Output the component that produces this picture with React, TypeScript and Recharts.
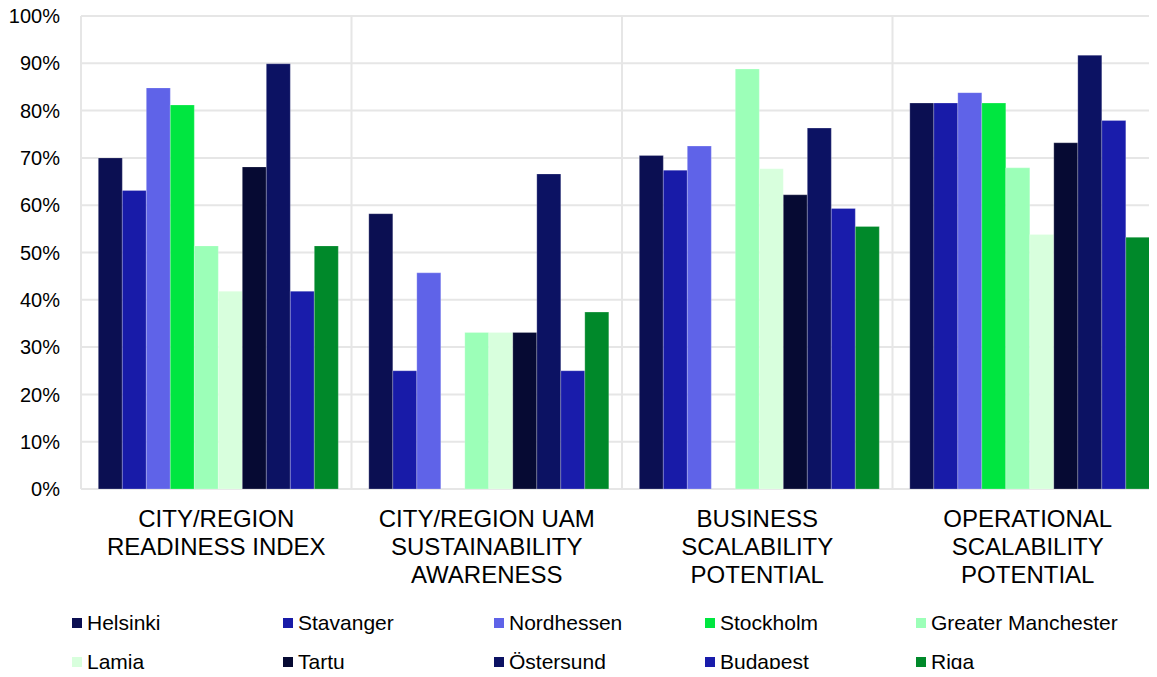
import React from "react";
import { BarChart, Bar, XAxis, YAxis, CartesianGrid } from "recharts";

const CATEGORIES = [
  "CITY/REGION\nREADINESS INDEX",
  "CITY/REGION UAM\nSUSTAINABILITY\nAWARENESS",
  "BUSINESS\nSCALABILITY\nPOTENTIAL",
  "OPERATIONAL\nSCALABILITY\nPOTENTIAL",
];

const CITIES = [
  "Helsinki",
  "Stavanger",
  "Nordhessen",
  "Stockholm",
  "Greater Manchester",
  "Lamia",
  "Tartu",
  "Östersund",
  "Budapest",
  "Riga",
];

const COLORS = [
  "#0B0F52",
  "#181BA8",
  "#5F63E8",
  "#00E640",
  "#9CFFB8",
  "#D8FFDD",
  "#060A33",
  "#0C1263",
  "#191CAB",
  "#00892A",
];

// one list per city, in category order (null = no bar)
const helsinki = [0.7, 0.582, 0.705, 0.816];
const stavanger = [0.631, 0.25, 0.674, 0.816];
const nordhessen = [0.848, 0.457, 0.725, 0.838];
const stockholm = [0.812, null, null, 0.816];
const greaterManchester = [0.514, 0.331, 0.888, 0.679];
const lamia = [0.418, 0.331, 0.677, 0.538];
const tartu = [0.681, 0.331, 0.622, 0.732];
const ostersund = [0.899, 0.666, 0.763, 0.917];
const budapest = [0.418, 0.25, 0.593, 0.779];
const riga = [0.514, 0.374, 0.555, 0.532];

const SERIES = [
  helsinki,
  stavanger,
  nordhessen,
  stockholm,
  greaterManchester,
  lamia,
  tartu,
  ostersund,
  budapest,
  riga,
];

const Y_TICKS = [0, 0.1, 0.2, 0.3, 0.4, 0.5, 0.6, 0.7, 0.8, 0.9, 1];

const data = CATEGORIES.map((name, i) => {
  const row: Record<string, string | number | null> = { name };
  CITIES.forEach((c, j) => {
    row[c] = SERIES[j][i];
  });
  return row;
});

const FONT = "'Liberation Sans', Arial, sans-serif";

function CategoryTick(props: any) {
  const { x, y, payload } = props;
  const lines = String(payload.value).split("\n");
  return (
    <text
      x={x}
      y={y}
      textAnchor="middle"
      fill="#000"
      fontSize={24}
      fontFamily={FONT}
    >
      {lines.map((l, i) => (
        <tspan key={i} x={x} dy={i === 0 ? 38 : 28}>
          {l}
        </tspan>
      ))}
    </text>
  );
}

export default function App() {
  return (
    <div
      style={{
        position: "relative",
        width: 1157,
        height: 677,
        overflow: "hidden",
        margin: -8,
        background: "#fff",
        fontFamily: FONT,
      }}
    >
      <BarChart
        width={1175}
        height={677}
        data={data}
        margin={{ top: 16, right: 12, left: 0, bottom: 0 }}
        barCategoryGap="6.4%"
        barGap={0}
      >
        <CartesianGrid
          stroke="#E6E6E6"
          strokeWidth={2}
          verticalCoordinatesGenerator={({ offset }: any) =>
            [0, 1, 2, 3, 4].map((i) => offset.left + (i * offset.width) / 4)
          }
        />
        <XAxis
          dataKey="name"
          height={188}
          interval={0}
          tickLine={false}
          axisLine={false}
          tickSize={0}
          tickMargin={0}
          tick={<CategoryTick />}
        />
        <YAxis
          width={81}
          domain={[0, 1]}
          ticks={Y_TICKS}
          tickFormatter={(v: number) => `${Math.round(v * 100)}%`}
          tickLine={false}
          axisLine={false}
          tickSize={0}
          tickMargin={21}
          tick={{ fill: "#000", fontSize: 20, fontFamily: FONT }}
          interval={0}
        />
        {CITIES.map((c, j) => (
          <Bar
            key={c}
            dataKey={c}
            fill={COLORS[j]}
            stroke="#ffffff"
            strokeOpacity={0.3}
            strokeWidth={0.75}
            isAnimationActive={false}
          />
        ))}
      </BarChart>
      <div
        style={{
          position: "absolute",
          left: 72,
          top: 610,
          display: "grid",
          gridTemplateColumns: "repeat(5, 211px)",
          rowGap: 13,
        }}
      >
        {CITIES.map((c, j) => (
          <div
            key={c}
            style={{
              display: "flex",
              alignItems: "center",
              height: 26,
              fontSize: 21,
              color: "#000",
              whiteSpace: "nowrap",
            }}
          >
            <span
              style={{
                display: "inline-block",
                width: 10,
                height: 10,
                background: COLORS[j],
                marginRight: 5,
              }}
            />
            {c}
          </div>
        ))}
      </div>
    </div>
  );
}
